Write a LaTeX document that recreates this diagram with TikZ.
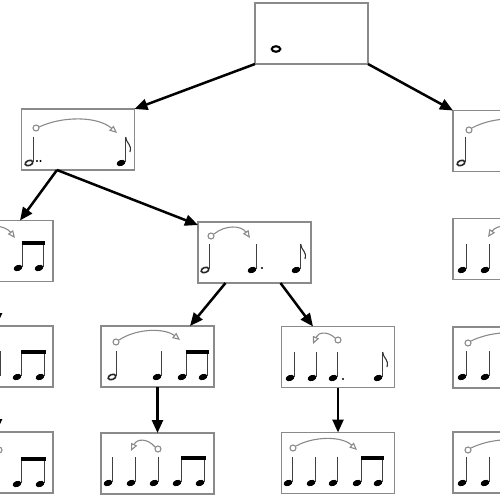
\documentclass[tikz,border=0pt]{standalone}
\usetikzlibrary{arrows.meta}
\definecolor{boxgray}{HTML}{8A8A8A}
\definecolor{tiegray}{HTML}{8A8A8A}
\tikzset{
 box/.style={draw=boxgray, line width=0.25mm, minimum width=22.6mm, minimum height=12.2mm, inner sep=0pt, outer sep=0pt},
 stemline/.style={draw=black!75, line width=0.22mm},
 flagline/.style={draw=black!80, line width=0.22mm},
 hollowhead/.style={draw=black!85, line width=0.32mm, fill=white},
 tieline/.style={draw=tiegray, line width=0.22mm},
 tiehead/.style={-{Triangle[open, length=1.5mm, width=1.3mm]}},
 link/.style={draw=black, line width=0.5mm, -{Triangle[length=2.6mm, width=2.2mm]}},
}
\newcommand\nhead[2]{\fill[black, rotate around={20:(#1,#2)}] (#1,#2) ellipse [x radius=0.9mm, y radius=0.6mm];}
\newcommand\qnote[2]{\nhead{#1}{#2}\draw[stemline] (#1+4.6,#2-1) -- (#1+4.6,#2-26);}
\newcommand\hnote[2]{\draw[hollowhead, rotate around={20:(#1,#2)}] (#1,#2) ellipse [x radius=0.8mm, y radius=0.5mm];\draw[stemline] (#1+4.6,#2-1.5) -- (#1+4.6,#2-26);}
\newcommand\enote[2]{\qnote{#1}{#2}\draw[flagline] (#1+4.6,#2-26) .. controls (#1+5.5,#2-19) and (#1+11,#2-19) .. (#1+9,#2-11);}
\newcommand\bnotes[3]{\qnote{#1}{#3}\qnote{#2}{#3}\fill[black] (#1+3.5,#3-27) rectangle (#2+5.7,#3-23.5);}
\newcommand\ndot[2]{\fill[black] (#1,#2) circle[radius=0.22mm];}
% circle cx cy, start sx sy, control y, tip tx ty
\newcommand\tiearc[7]{\draw[tieline] (#1,#2) circle[radius=0.6mm];\draw[tieline,tiehead] (#3,#4) .. controls ({#3+(#6-#3)*0.3},#5) and ({#3+(#6-#3)*0.75},#5) .. (#6,#7);}
\begin{document}
\begin{tikzpicture}[x=0.2mm,y=-0.2mm]
\useasboundingbox (0,0) rectangle (500,500);
\clip (0,0) rectangle (500,500);
% boxes
\node[box] (top) at (311.5,33.5) {};
\node[box] (l1) at (78,139.5) {};
\node[box] (r1) at (509.5,141) {};
\node[box] (l2a) at (-3.5,251) {};
\node[box] (l2b) at (254.5,252.5) {};
\node[box] (r2) at (509.5,249) {};
\node[box] (l3a) at (-3.5,356.5) {};
\node[box] (l3b) at (157.5,356.5) {};
\node[box] (l3c) at (338,357) {};
\node[box] (r3) at (509.5,357.5) {};
\node[box] (l4a) at (-3.5,462.5) {};
\node[box] (l4b) at (157.5,463.5) {};
\node[box] (l4c) at (338,463) {};
\node[box] (r4) at (509.5,462.5) {};
% connectors
\draw[link] (top.south west) -- (l1.north east);
\draw[link] (top.south east) -- (r1.north west);
\draw[link] ([xshift=-4.2mm]l1.south) -- ([xshift=4.7mm]l2a.north);
\draw[link] ([xshift=-4.2mm]l1.south) -- ([yshift=-0.6mm]l2b.north west);
\draw[link] ([xshift=-5.8mm]l2b.south) -- ([xshift=6.5mm]l3b.north);
\draw[link] ([xshift=5.2mm]l2b.south) -- ([xshift=-5mm]l3c.north);
\draw[link] (l3b.south) -- (l4b.north);
\draw[link] (l3c.south) -- (l4c.north);
\draw[link] (l2a.south) -- (l3a.north);
\draw[link] (l3a.south) -- (l4a.north);
\draw[link] (r1.south) -- (r2.north);
\draw[link] (r2.south) -- (r3.north);
\draw[link] (r3.south) -- (r4.north);
% top: whole note
\draw[black, line width=0.42mm] (276,49) ellipse [x radius=0.85mm, y radius=0.55mm];
% l1
\hnote{29}{163}\ndot{37}{161}\ndot{40.5}{161}
\enote{121}{163}
\tiearc{36}{128}{39}{127}{116}{117}{133}
% r1
\hnote{461}{163}
\tiearc{469}{130}{472}{128}{116}{545}{133}
% l2a
\bnotes{18}{39}{268}
\draw[tieline,tiehead] (-25,230) .. controls (-12,224) and (5,225) .. (15,238);
% l2b
\hnote{205}{270}
\qnote{252}{270}\ndot{262}{268}
\enote{296}{270}
\tiearc{211}{236}{214}{234}{225}{250}{238}
% r2
\qnote{462}{270}\qnote{485}{270}
\draw[tieline,tiehead] (527,233) .. controls (515,224) and (497,224) .. (488,237);
% l3a
\qnote{-4.5}{377}
\bnotes{17}{40}{377}
% l3b
\hnote{112}{377}
\qnote{157}{377}
\bnotes{182}{203}{377}
\tiearc{116}{342}{119}{340}{328}{180}{340}
% l3c
\qnote{290}{378}\qnote{312}{378}\qnote{333}{378}\ndot{343}{379}
\enote{378}{378}
\tiearc{338}{340}{335}{338}{331.5}{313}{344}
% r3
\qnote{462}{377}\qnote{485}{377}
\tiearc{468}{343}{471}{341}{330}{545}{345}
% l4a
\bnotes{17}{40}{484}
\draw[tieline] (-1,450) circle[radius=0.6mm];
% l4b
\qnote{108}{483}\qnote{131}{483}\qnote{154}{483}
\bnotes{177}{200}{483}
\tiearc{158}{449}{155}{447}{438.3}{131}{451}
% l4c
\qnote{288}{483}\qnote{311}{483}\qnote{333}{483}
\bnotes{357}{378}{483}
\tiearc{293}{448}{296}{446}{436}{357}{450}
% r4
\qnote{462}{483}\qnote{485}{483}
\tiearc{468}{450}{471}{448}{437}{545}{452}
\end{tikzpicture}
\end{document}
